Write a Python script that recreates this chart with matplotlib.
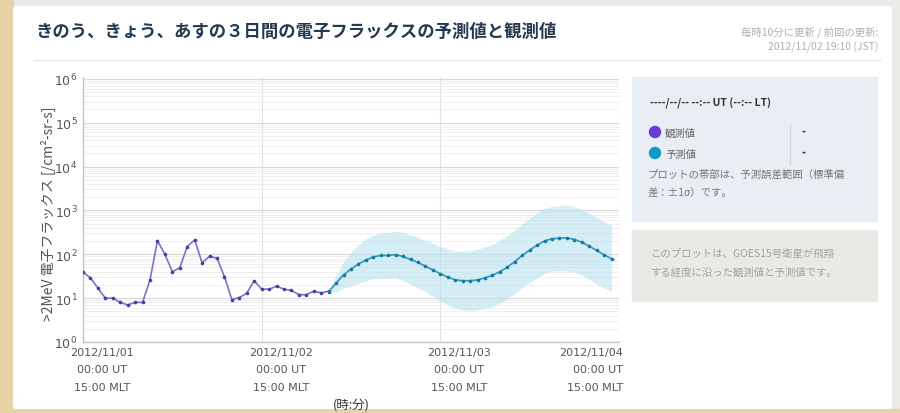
import matplotlib
matplotlib.use("Agg")
import matplotlib.pyplot as plt
import matplotlib.dates as mdates
from matplotlib.patches import Rectangle, FancyBboxPatch, Circle
from matplotlib.ticker import LogLocator, NullFormatter
from matplotlib.transforms import offset_copy
import pandas as pd

plt.rcParams["font.family"] = ["Noto Sans CJK JP", "DejaVu Sans"]

# observed flux, hourly from 2012/11/01 00:00 UT
obs_time = pd.date_range("2012-11-01 00:00", periods=34, freq="h")
obs_flux = [39, 29, 17, 10, 10, 8, 7, 8, 8, 26, 205, 100, 40, 49, 150, 213,
            64, 90, 81, 31, 9.2, 10.3, 13, 25, 16, 16, 18.7, 16, 15, 12, 12,
            14.4, 13.2, 14.4]

# forecast flux and +-1 sigma band, hourly from 2012/11/02 09:00 UT
fc_time = pd.date_range("2012-11-02 09:00", periods=39, freq="h")
fc_flux = [14, 22, 34, 46, 60, 74, 87, 94, 94, 98, 89, 76, 65, 53, 44, 36, 30,
           26, 25, 25, 26, 29, 33, 40, 51, 68, 94, 124, 161, 202, 225, 233,
           237, 217, 189, 153, 122, 97, 79]
fc_upper = [14, 34, 68, 111, 166, 225, 276, 310, 317, 333, 315, 275, 246, 208,
            179, 151, 133, 118, 117, 120, 130, 148, 167, 211, 266, 358, 502,
            665, 885, 1110, 1236, 1280, 1330, 1219, 1062, 861, 700, 557, 452]
fc_lower = [14, 14, 17, 19, 22, 25, 28, 28, 28, 29, 25, 21, 17, 14, 11, 8.7,
            7.0, 5.9, 5.4, 5.2, 5.4, 5.9, 6.4, 7.7, 9.7, 13, 17, 23, 29, 37,
            41, 42, 42, 39, 34, 27, 21, 17, 14]

day_ticks = pd.to_datetime(["2012-11-01", "2012-11-02", "2012-11-03", "2012-11-04"])
day_labels = ["2012/11/01", "2012/11/02", "2012/11/03", "2012/11/04"]

W, H = 900, 414
fig = plt.figure(figsize=(W / 100, H / 100), dpi=100)
fig.patch.set_facecolor("#ecebe8")

# background layer in pixel coordinates
bg = fig.add_axes([0, 0, 1, 1], zorder=0)
bg.set_xlim(0, W)
bg.set_ylim(H, 0)
bg.axis("off")
bg.add_patch(Rectangle((0, 0), 13, H, color="#e8d3a6"))
bg.add_patch(Rectangle((0, 410), W, 4, color="#e8d3a6"))
bg.add_patch(FancyBboxPatch((16, 10), 873, 397,
                            boxstyle="round,pad=3,rounding_size=4",
                            facecolor="white", edgecolor="none"))

# header
bg.text(35, 32, "きのう、きょう、あすの３日間の電子フラックスの予測値と観測値",
        fontsize=12.5, fontweight="bold", color="#233a52", va="center")
bg.text(878, 32, "毎時10分に更新 / 前回の更新:", fontsize=7.5,
        color="#b0b0b0", ha="right", va="center")
bg.text(878, 47, "2012/11/02 19:10 (JST)", fontsize=7.5,
        color="#b0b0b0", ha="right", va="center")
bg.plot([35, 880], [61, 61], color="#e6e6e6", lw=1)

# info panel
bg.add_patch(Rectangle((632, 78), 245, 144, color="#e9eef4"))
bg.text(650, 103, "----/--/-- --:-- UT (--:-- LT)", fontsize=7.5,
        fontweight="bold", color="#333333", va="center")
bg.add_patch(Circle((655, 133), 5.5, color="#6a3bd6"))
bg.add_patch(Circle((655, 154), 5.5, color="#0e9ac7"))
bg.text(665, 134, "観測値", fontsize=7.5, color="#666666", va="center")
bg.text(665, 155, "予測値", fontsize=7.5, color="#666666", va="center")
bg.plot([790, 790], [125, 166], color="#d3d8de", lw=1)
bg.text(801, 131, "-", fontsize=8, fontweight="bold", color="#333333", va="center")
bg.text(801, 152, "-", fontsize=8, fontweight="bold", color="#333333", va="center")
bg.text(648, 175, "プロットの帯部は、予測誤差範囲（標準偏", fontsize=7.5,
        color="#777777", va="center")
bg.text(648, 194, "差：±1σ）です。", fontsize=7.5, color="#777777", va="center")

# note panel
bg.add_patch(Rectangle((632, 231), 245, 71, color="#ebe9e5"))
bg.text(650, 254, "このプロットは、GOES15号衛星が飛翔", fontsize=7.5,
        color="#a3a3a3", va="center")
bg.text(650, 273, "する経度に沿った観測値と予測値です。", fontsize=7.5,
        color="#a3a3a3", va="center")

# chart
ax = fig.add_axes([83 / W, 1 - 343 / H, 536 / W, 265 / H], zorder=1)
ax.set_yscale("log")
ax.set_ylim(1, 1.1e6)
ax.set_xlim(day_ticks[0], day_ticks[-1])

ax.fill_between(fc_time, fc_lower, fc_upper, color="#b4e0ee", alpha=0.55,
                lw=0, zorder=2)
ax.plot(obs_time, obs_flux, color="#7e70c8", lw=1.2, marker="o", ms=1.6,
        mfc="#4f3d9e", mec="#4f3d9e", zorder=3)
ax.plot(fc_time, fc_flux, color="#2e98be", lw=1.2, marker="o", ms=1.6,
        mfc="#177a9e", mec="#177a9e", zorder=3)

ax.yaxis.set_major_locator(LogLocator(base=10, numticks=10))
ax.yaxis.set_minor_locator(LogLocator(base=10, subs=range(2, 10), numticks=20))
ax.yaxis.set_minor_formatter(NullFormatter())
ax.grid(True, which="major", axis="y", color="#d9d9d9", lw=0.8, zorder=0)
ax.grid(True, which="minor", axis="y", color="#ececec", lw=0.6, zorder=0)
ax.set_xticks(day_ticks)
ax.set_xticklabels([])
ax.grid(True, which="major", axis="x", color="#e2e2e2", lw=0.8, zorder=0)
ax.tick_params(axis="both", which="both", length=0)
ax.tick_params(axis="y", labelsize=9, labelcolor="#555555", pad=4)
for lbl in ax.get_yticklabels():
    lbl.set_family("DejaVu Sans")

for s in ["top", "right"]:
    ax.spines[s].set_visible(False)
for s in ["left", "bottom"]:
    ax.spines[s].set_color("#c4c4c4")
    ax.spines[s].set_linewidth(1)

# three-line date labels, shifted right like the original
base = ax.get_xaxis_transform()
for i, (t, lab) in enumerate(zip(day_ticks, day_labels)):
    last = i == len(day_ticks) - 1
    dx = 4 if last else 19
    ha = "right" if last else "center"
    for j, line in enumerate([lab, "00:00 UT", "15:00 MLT"]):
        tr = offset_copy(base, fig=fig, x=dx, y=-10 - 17.5 * j, units="dots")
        ax.text(mdates.date2num(t), 0, line, transform=tr, ha=ha, va="center",
                fontsize=8, color="#555555", family="DejaVu Sans", clip_on=False)

ax.text(0.5, -0.235, "(時:分)", transform=ax.transAxes, fontsize=9,
        color="#333333", ha="center", va="center")
bg.text(48, 214, ">2MeV 電子フラックス [/cm²-sr-s]", rotation=90,
        fontsize=10, color="#555555", ha="center", va="center")

fig.savefig("out.png", dpi=100, facecolor=fig.get_facecolor())
